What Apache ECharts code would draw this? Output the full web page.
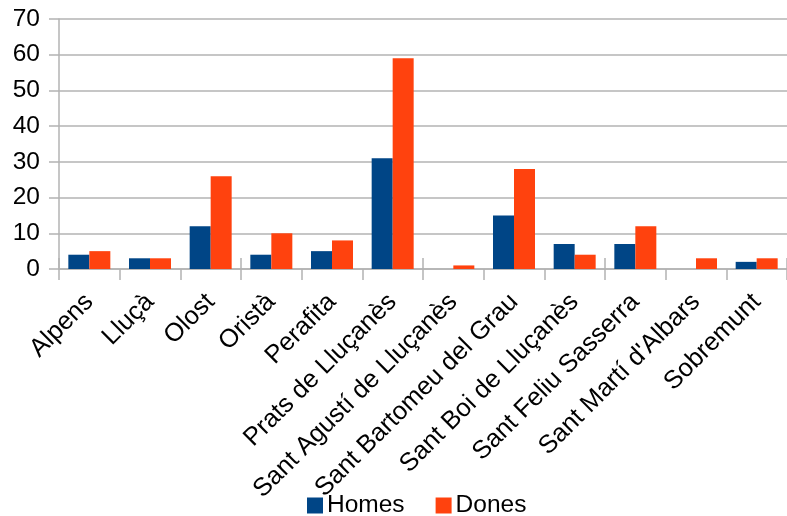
<!DOCTYPE html>
<html>
<head>
<meta charset="utf-8">
<script src="https://cdn.jsdelivr.net/npm/echarts@6/dist/echarts.min.js"></script>
<style>
html,body{margin:0;padding:0;background:#fff;}
#chart{width:787px;height:516px;}
</style>
</head>
<body>
<div id="chart"></div>
<script>
const categories = ["Alpens","Lluçà","Olost","Oristà","Perafita","Prats de Lluçanès","Sant Agustí de Lluçanès","Sant Bartomeu del Grau","Sant Boi de Lluçanès","Sant Feliu Sasserra","Sant Martí d'Albars","Sobremunt"];
const homes = [4,3,12,4,5,31,0,15,7,7,0,2];
const dones = [5,3,26,10,8,59,1,28,4,12,3,3];
const yTicks = {min:0, max:70, interval:10};

const chart = echarts.init(document.getElementById('chart'));
const gridColor = '#b3b3b3';
const font = 'Liberation Sans, Arial, sans-serif';
chart.setOption({
  animation:false,
  backgroundColor:'#fff',
  grid:{left:59, top:19, width:734, height:250, containLabel:false},
  legend:{
    data:['Homes','Dones'],
    left:302, top:488,
    itemWidth:16, itemHeight:16, itemGap:31,
    icon:'rect',
    textStyle:{fontFamily:font, fontSize:24.5, color:'#000', padding:[0,0,0,-1]}
  },
  xAxis:[{
    type:'category', data:categories,
    axisLine:{lineStyle:{color:gridColor, width:1.5}},
    axisTick:{show:true, length:11, lineStyle:{color:gridColor, width:1.5}},
    axisLabel:{rotate:45, fontFamily:font, fontSize:25.5, color:'#000', margin:29, interval:0}
  },{
    type:'category', data:categories, position:'bottom',
    axisLine:{show:false},
    axisTick:{show:true, inside:true, length:11, lineStyle:{color:gridColor, width:1.5}},
    axisLabel:{show:false}
  }],
  yAxis:{
    type:'value', min:yTicks.min, max:yTicks.max, interval:yTicks.interval,
    axisLine:{show:true, lineStyle:{color:gridColor, width:1.5}},
    axisTick:{show:true, length:10, lineStyle:{color:gridColor, width:1.5}},
    splitLine:{lineStyle:{color:gridColor, width:1.5}},
    axisLabel:{fontFamily:font, fontSize:24.5, color:'#000', margin:19}
  },
  series:[
    {name:'Homes', type:'bar', data:homes, barWidth:21, barGap:'0%', itemStyle:{color:'#004586'}},
    {name:'Dones', type:'bar', data:dones, barWidth:21, barGap:'0%', itemStyle:{color:'#ff420e'}}
  ]
});
</script>
</body>
</html>
